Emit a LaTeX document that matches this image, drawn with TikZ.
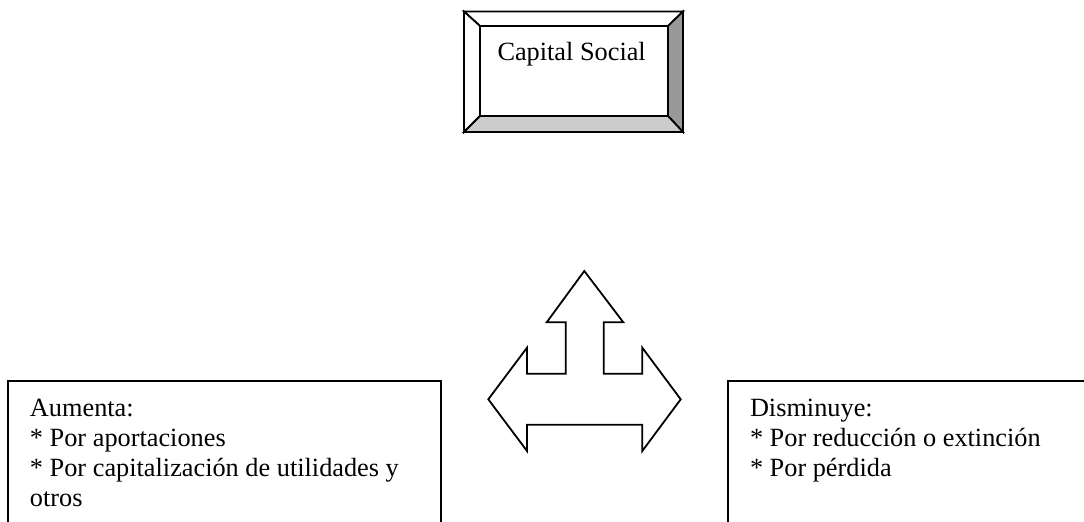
\documentclass[tikz,border=0pt]{standalone}
\usepackage{fontspec}
\setmainfont{Liberation Serif}
\definecolor{bevelside}{gray}{0.6}
\definecolor{bevelbase}{gray}{0.8}
\begin{document}
\begin{tikzpicture}[x=0.5pt,y=-0.5pt,
  edge/.style={draw=black,line width=0.9pt,line join=miter},
  txt/.style={anchor=base west,inner sep=0pt,outer sep=0pt,font=\fontsize{13.15}{15}\selectfont},
  listbox/.style={edge,fill=white}]
\useasboundingbox (0,0) rectangle (1084,521);
\clip (0,0) rectangle (1084,521);

% bevelled title panel
\coordinate (o1) at (464,11.5);
\coordinate (o2) at (683,11.5);
\coordinate (o3) at (683,132);
\coordinate (o4) at (464,132);
\coordinate (i1) at (480,26);
\coordinate (i2) at (668,26);
\coordinate (i3) at (668,116);
\coordinate (i4) at (480,116);
\path[edge,fill=white] (o1) -- (o2) -- (i2) -- (i1) -- cycle;
\path[edge,fill=white] (o1) -- (i1) -- (i4) -- (o4) -- cycle;
\path[edge,fill=bevelside] (o2) -- (o3) -- (i3) -- (i2) -- cycle;
\path[edge,fill=bevelbase] (o4) -- (i4) -- (i3) -- (o3) -- cycle;
\path[edge,fill=white] (i1) rectangle (i3);
\node[txt] (title) at (497.5,60) {Capital Social};

% three-way block arrow
\path[edge,fill=white]
  (584.3,271) -- (623.3,322.3) -- (603.7,322.3) -- (603.7,373.7)
  -- (642.3,373.7) -- (642.3,347.7) -- (680.7,399.3) -- (642.3,451)
  -- (642.3,424.7) -- (527,424.7) -- (527,451) -- (488.3,399.3)
  -- (527,347.7) -- (527,373.7) -- (565.7,373.7) -- (565.7,322.3)
  -- (546.7,322.3) -- cycle;

% lower boxes (run past the page edges)
\path[listbox] (8.3,381) rectangle (441,560);
\path[listbox] (728.3,381) rectangle (1110,560);

\node[txt] (a1) at (30,416) {Aumenta:};
\node[txt] (a2) at (30,446) {* Por aportaciones};
\node[txt] (a3) at (30,476) {* Por capitalización de utilidades y};
\node[txt] (a4) at (30,506) {otros};

\node[txt] (d1) at (750,416) {Disminuye:};
\node[txt] (d2) at (750,446) {* Por reducción o extinción};
\node[txt] (d3) at (750,476) {* Por pérdida};
\end{tikzpicture}
\end{document}
